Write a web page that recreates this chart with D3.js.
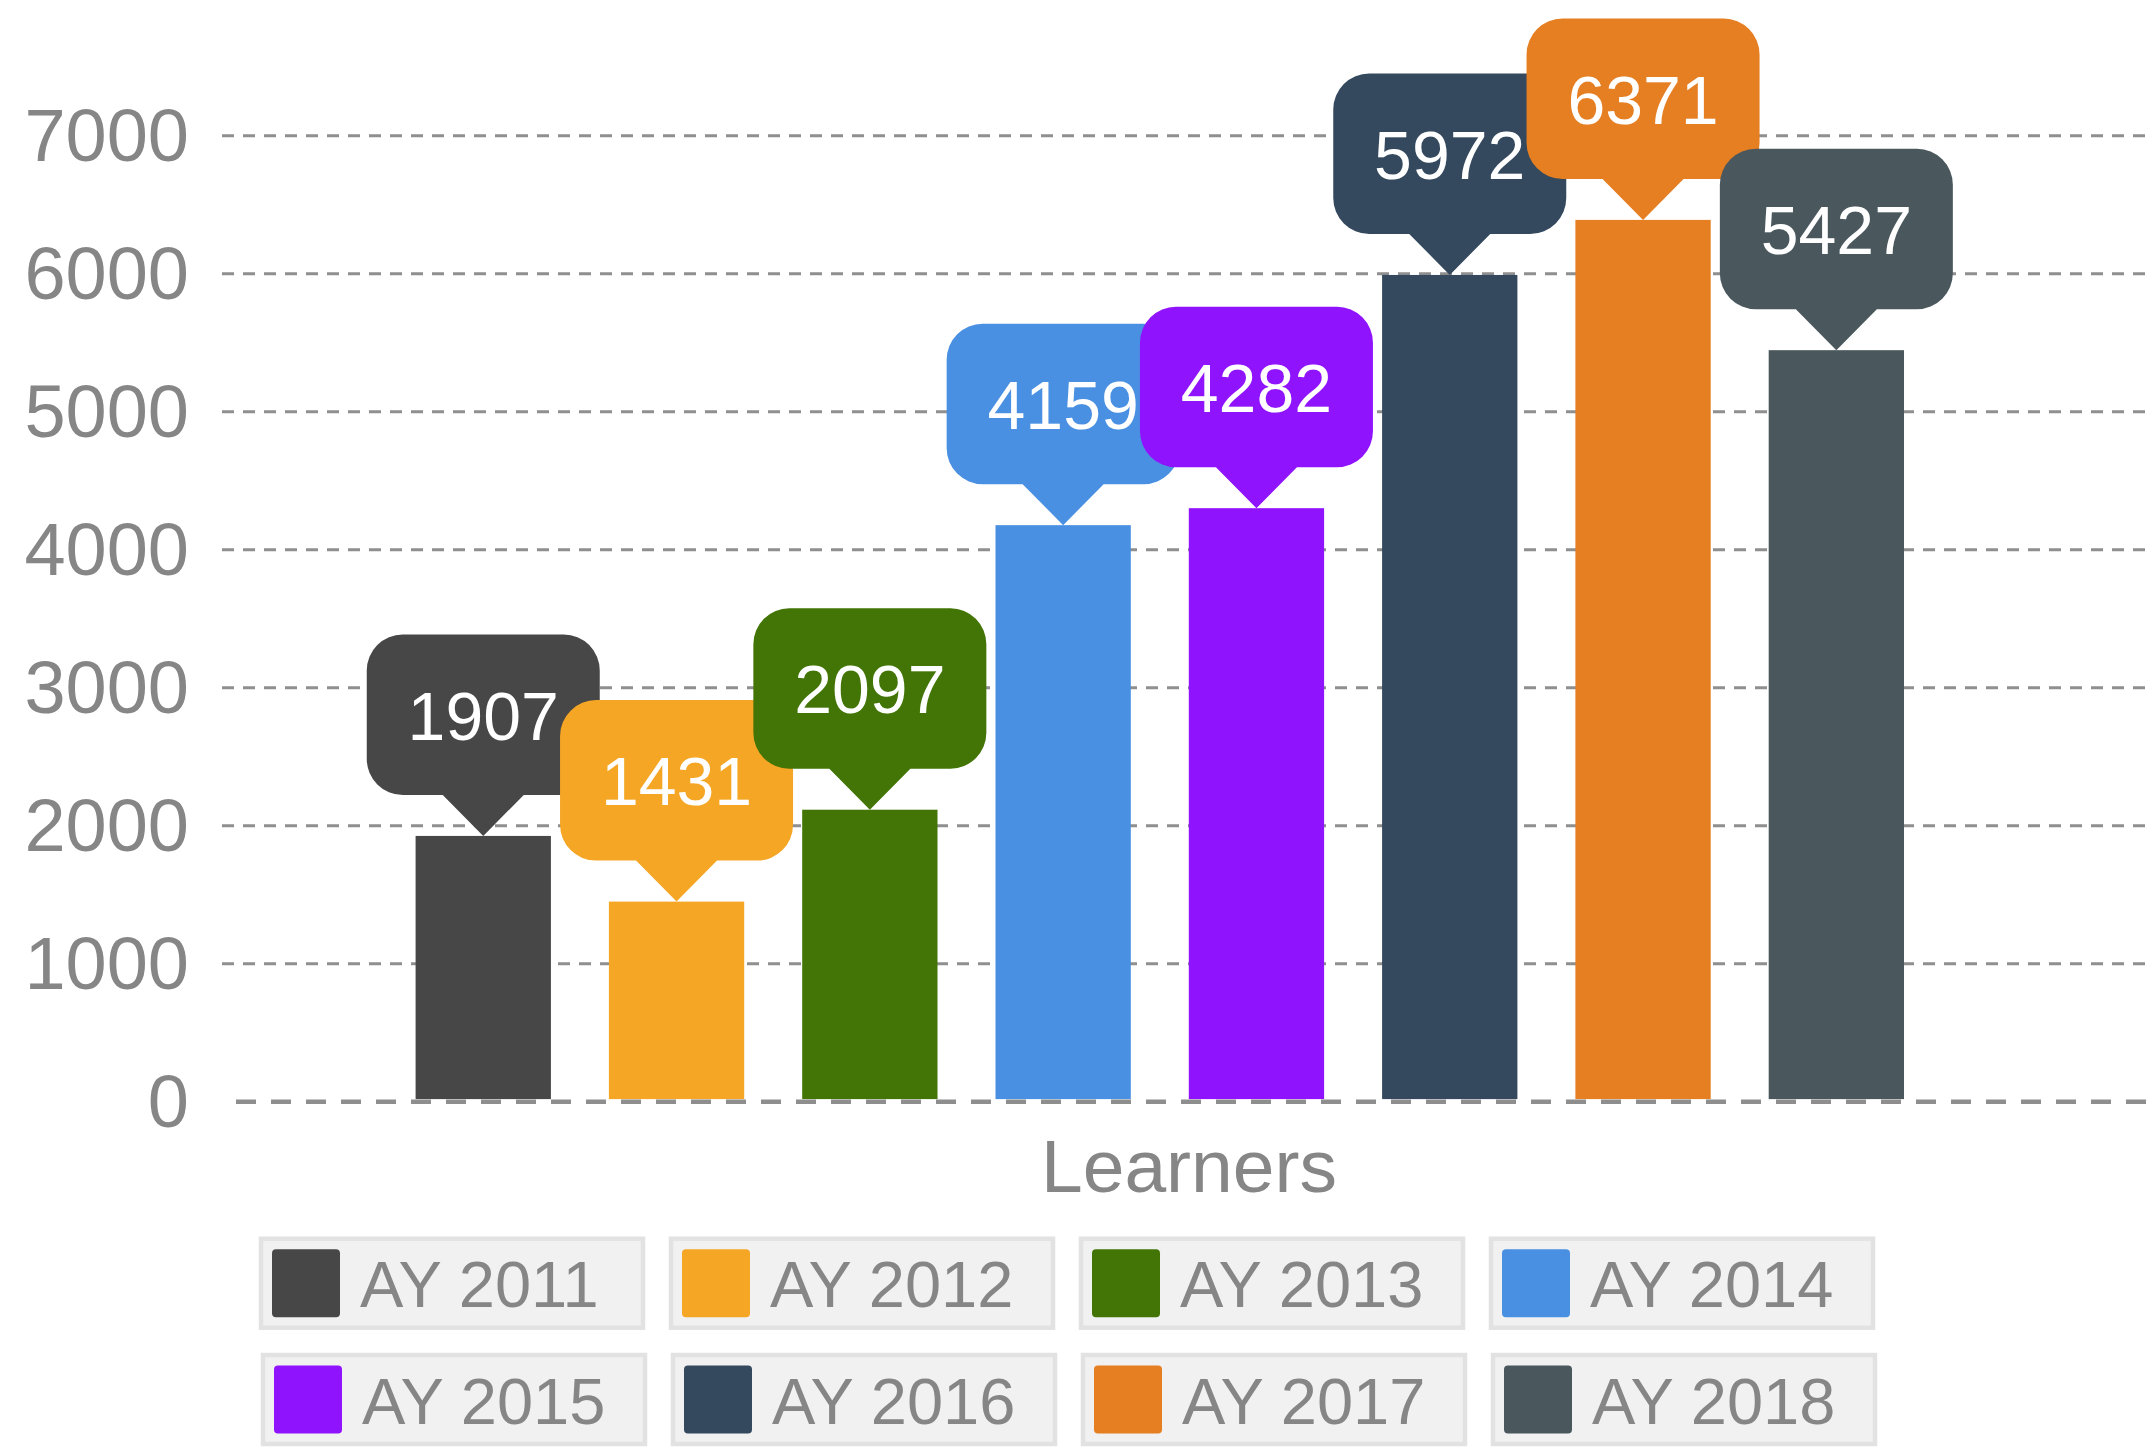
<!DOCTYPE html>
<html>
<head>
<meta charset="utf-8">
<script src="https://cdn.jsdelivr.net/npm/d3@7"></script>
<style>
  html, body { margin: 0; padding: 0; background: #ffffff; }
  svg { display: block; font-family: "Liberation Sans", Arial, Helvetica, sans-serif; }
</style>
</head>
<body>
<svg id="chart" width="2150" height="1447"></svg>
<script>
// ---- data ----
const category = "Learners";
const seriesNames = ["AY 2011", "AY 2012", "AY 2013", "AY 2014", "AY 2015", "AY 2016", "AY 2017", "AY 2018"];
const seriesValues = [1907, 1431, 2097, 4159, 4282, 5972, 6371, 5427];
const seriesColors = ["#474747", "#f4a624", "#427505", "#4a90e2", "#9013fe", "#34495e", "#e67e22", "#4a585e"];
const yTicks = [0, 1000, 2000, 3000, 4000, 5000, 6000, 7000];

// ---- layout ----
const W = 2150, H = 1447;
const plotLeft = 222, plotRight = 2150;
const yBase = 1101.7, yTop = 135.7;
const barShift = -2.6;
const svg = d3.select("#chart");

const y = d3.scaleLinear().domain([0, 7000]).range([yBase, yTop]);
const x = d3.scaleBand().domain(seriesNames).range([386.6, 1933]).paddingInner(0.3).paddingOuter(0.15);

// gridlines
svg.append("g").selectAll("line")
  .data(yTicks.filter(d => d !== 0))
  .join("line")
  .attr("x1", plotLeft).attr("x2", plotRight)
  .attr("y1", d => y(d)).attr("y2", d => y(d))
  .attr("stroke", "#8f8f8f").attr("stroke-width", 3)
  .attr("stroke-dasharray", "12,9");

// y axis labels
const yAxis = d3.axisLeft(y).tickValues(yTicks).tickSize(0).tickPadding(0).tickFormat(d3.format("d"));
const gy = svg.append("g").attr("transform", "translate(189,-1.5)").call(yAxis);
gy.select(".domain").remove();
gy.selectAll("text")
  .attr("fill", "#868686")
  .attr("font-size", 74)
  .attr("font-family", "'Liberation Sans', Arial, sans-serif")
  .attr("dy", "0.36em");

// bars
svg.append("g").attr("transform", `translate(0,${barShift})`).selectAll("rect")
  .data(seriesNames)
  .join("rect")
  .attr("x", d => x(d))
  .attr("y", (d, i) => y(seriesValues[i]))
  .attr("width", x.bandwidth())
  .attr("height", (d, i) => y(0) - y(seriesValues[i]))
  .attr("fill", (d, i) => seriesColors[i]);

// baseline
svg.append("line")
  .attr("x1", 236).attr("x2", plotRight)
  .attr("y1", y(0)).attr("y2", y(0))
  .attr("stroke", "#8e8e8e").attr("stroke-width", 4.5)
  .attr("stroke-dasharray", "20,15");

// callout labels
const boxW = 233, boxH = 160.5, ptrH = 41, ptrHalf = 40.5, rad = 36;
function calloutPath(cx, tipY) {
  const b = tipY - ptrH, t = b - boxH, l = cx - boxW / 2, r = cx + boxW / 2;
  return [
    `M${l + rad},${t}`,
    `L${r - rad},${t}`,
    `A${rad},${rad} 0 0 1 ${r},${t + rad}`,
    `L${r},${b - rad}`,
    `A${rad},${rad} 0 0 1 ${r - rad},${b}`,
    `L${cx + ptrHalf},${b}`,
    `L${cx},${tipY}`,
    `L${cx - ptrHalf},${b}`,
    `L${l + rad},${b}`,
    `A${rad},${rad} 0 0 1 ${l},${b - rad}`,
    `L${l},${t + rad}`,
    `A${rad},${rad} 0 0 1 ${l + rad},${t}`,
    "Z"
  ].join(" ");
}
const labels = svg.append("g").attr("transform", `translate(0,${barShift})`).selectAll("g")
  .data(seriesNames)
  .join("g");
labels.append("path")
  .attr("d", (d, i) => calloutPath(x(d) + x.bandwidth() / 2, y(seriesValues[i])))
  .attr("fill", (d, i) => seriesColors[i]);
labels.append("text")
  .attr("x", d => x(d) + x.bandwidth() / 2)
  .attr("y", (d, i) => y(seriesValues[i]) - ptrH - boxH / 2 + 25)
  .attr("text-anchor", "middle")
  .attr("fill", "#ffffff")
  .attr("font-size", 68)
  .text((d, i) => seriesValues[i]);

// category label
svg.append("text")
  .attr("x", (plotLeft + plotRight) / 2 + 3)
  .attr("y", 1192)
  .attr("text-anchor", "middle")
  .attr("fill", "#868686")
  .attr("font-size", 75)
  .text(category);

// legend
const legItemW = 386, legItemH = 93, legStepX = 410, legRows = [1236.7, 1353];
const leg = svg.append("g").selectAll("g")
  .data(seriesNames)
  .join("g")
  .attr("transform", (d, i) => `translate(${259 + (i % 4) * legStepX + (i >= 4 ? 2 : 0)},${legRows[Math.floor(i / 4)]})`);
leg.append("rect")
  .attr("x", 2).attr("y", 2)
  .attr("width", legItemW - 4).attr("height", legItemH - 4)
  .attr("fill", "#f1f1f1")
  .attr("stroke", "#e2e2e2").attr("stroke-width", 4.5);
leg.append("rect")
  .attr("x", 13).attr("y", 12.5)
  .attr("width", 68).attr("height", 68)
  .attr("rx", 4).attr("ry", 4)
  .attr("fill", (d, i) => seriesColors[i]);
leg.append("text")
  .attr("x", 101)
  .attr("y", 70.6)
  .attr("fill", "#868686")
  .attr("font-size", 65)
  .text(d => d);
</script>
</body>
</html>
